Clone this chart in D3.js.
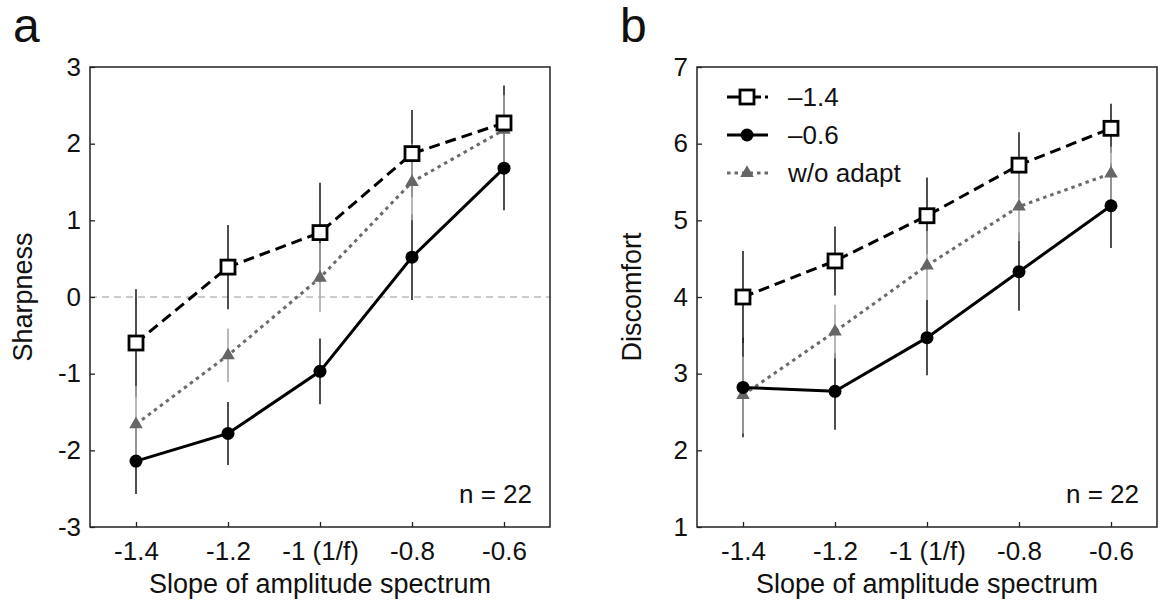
<!DOCTYPE html>
<html>
<head>
<meta charset="utf-8">
<script src="https://cdn.jsdelivr.net/npm/d3@7"></script>
<style>
body { margin: 0; background: #fff; }
text { font-family: "Liberation Sans", Arial, Helvetica, sans-serif; fill: #111; }
</style>
</head>
<body>
<div id="chart"></div>
<script>
// x categories (slope of amplitude spectrum)
var slopes = [-1.4, -1.2, -1.0, -0.8, -0.6];
var slopeLabels = ["-1.4", "-1.2", "-1 (1/f)", "-0.8", "-0.6"];

// panel a: sharpness
var sharpAdapt14 = [-0.6, 0.39, 0.84, 1.87, 2.27];
var sharpAdapt14Err = [0.7, 0.55, 0.65, 0.57, 0.49];
var sharpAdapt06 = [-2.14, -1.78, -0.97, 0.52, 1.68];
var sharpAdapt06Err = [0.43, 0.41, 0.43, 0.56, 0.55];
var sharpNoAdapt = [-1.66, -0.76, 0.25, 1.5, 2.18];
var sharpNoAdaptErr = [0.5, 0.35, 0.45, 0.5, 0.45];
var sharpTicks = [-3, -2, -1, 0, 1, 2, 3];

// panel b: discomfort
var discAdapt14 = [4.0, 4.47, 5.06, 5.72, 6.2];
var discAdapt14Err = [0.6, 0.45, 0.5, 0.43, 0.32];
var discAdapt06 = [2.82, 2.77, 3.47, 4.33, 5.19];
var discAdapt06Err = [0.65, 0.5, 0.49, 0.51, 0.55];
var discNoAdapt = [2.72, 3.55, 4.41, 5.18, 5.61];
var discNoAdaptErr = [0.5, 0.35, 0.45, 0.45, 0.35];
var discTicks = [1, 2, 3, 4, 5, 6, 7];

var legendLabels = ["\u20131.4", "\u20130.6", "w/o adapt"];

var W = 1160, H = 608;
var size = 460;

var svg = d3.select("#chart").append("svg")
    .attr("width", W)
    .attr("height", H);

// series styles: 0 = adapt -1.4 (open squares, dashed), 1 = adapt -0.6 (dots, solid), 2 = no adapt (grey triangles, dotted)
var styles = [
    { line: "#000", dash: "11,6", bar: "#222", mark: "square" },
    { line: "#000", dash: null, bar: "#222", mark: "circle" },
    { line: "#6a6a6a", dash: "3.5,4", bar: "#a8a8a8", mark: "triangle" }
];

function drawMarker(g, type, cx, cy) {
    if (type == "square") {
        g.append("rect")
            .attr("x", cx - 7).attr("y", cy - 7)
            .attr("width", 14).attr("height", 14)
            .attr("fill", "#fff")
            .attr("stroke", "#000")
            .attr("stroke-width", 2.8);
    } else if (type == "circle") {
        g.append("circle")
            .attr("cx", cx).attr("cy", cy).attr("r", 6.5)
            .attr("fill", "#000");
    } else {
        g.append("path")
            .attr("d", d3.symbol().type(d3.symbolTriangle).size(80)())
            .attr("transform", "translate(" + cx + "," + cy + ")")
            .attr("fill", "#666");
    }
}

function drawPanel(left, letter, yTitle, yTicks, series, errs, showZero, showLegend, titleX) {
    var g = svg.append("g")
        .attr("transform", "translate(" + left + ",67)");

    var x = d3.scaleLinear().domain([-1.5, -0.5]).range([0, size]);
    var y = d3.scaleLinear().domain([yTicks[0], yTicks[yTicks.length - 1]]).range([size, 0]);

    // zero reference line
    if (showZero) {
        g.append("line")
            .attr("x1", 0).attr("x2", size)
            .attr("y1", y(0)).attr("y2", y(0))
            .attr("stroke", "#bbb")
            .attr("stroke-width", 1.5)
            .attr("stroke-dasharray", "7,5");
    }

    // axes, ticks pointing inward
    var xAxis = g.append("g")
        .attr("transform", "translate(0," + size + ")")
        .call(d3.axisBottom(x).tickValues(slopes)
            .tickFormat(function (d, i) { return slopeLabels[i]; })
            .tickSizeInner(-5).tickSizeOuter(0).tickPadding(15));
    var yAxis = g.append("g")
        .call(d3.axisLeft(y).tickValues(yTicks)
            .tickFormat(function (d) { return String(d); })
            .tickSizeInner(-5).tickSizeOuter(0).tickPadding(9));
    [xAxis, yAxis].forEach(function (a) {
        a.attr("font-size", 26).attr("font-family", null);
        a.select(".domain").remove();
        a.selectAll(".tick line").attr("stroke", "#222").attr("stroke-width", 1.3);
        a.selectAll(".tick text").attr("fill", "#111");
    });

    // frame
    g.append("rect")
        .attr("x", 0).attr("y", 0)
        .attr("width", size).attr("height", size)
        .attr("fill", "none")
        .attr("stroke", "#222")
        .attr("stroke-width", 1.5);

    // error bars: black first, grey on top
    [0, 1, 2].forEach(function (k) {
        slopes.forEach(function (s, i) {
            g.append("line")
                .attr("x1", x(s)).attr("x2", x(s))
                .attr("y1", y(series[k][i] - errs[k][i]))
                .attr("y2", y(series[k][i] + errs[k][i]))
                .attr("stroke", styles[k].bar)
                .attr("stroke-width", 1.6);
        });
    });

    var line = d3.line()
        .x(function (d, i) { return x(slopes[i]); })
        .y(function (d) { return y(d); });

    // lines and markers: grey triangles under the black series
    [2, 1, 0].forEach(function (k) {
        g.append("path")
            .datum(series[k])
            .attr("d", line)
            .attr("fill", "none")
            .attr("stroke", styles[k].line)
            .attr("stroke-width", 3)
            .attr("stroke-dasharray", styles[k].dash);
    });
    [2, 1, 0].forEach(function (k) {
        series[k].forEach(function (v, i) {
            drawMarker(g, styles[k].mark, x(slopes[i]), y(v));
        });
    });

    g.append("text")
        .attr("x", size - 18).attr("y", 436)
        .attr("text-anchor", "end")
        .attr("font-size", 26)
        .text("n = 22");

    if (showLegend) {
        var lg = g.append("g").attr("transform", "translate(30,30)");
        [0, 1, 2].forEach(function (k) {
            var row = lg.append("g").attr("transform", "translate(0," + (k * 38) + ")");
            row.append("line")
                .attr("x1", 0).attr("x2", 41)
                .attr("y1", 0).attr("y2", 0)
                .attr("stroke", styles[k].line)
                .attr("stroke-width", 3)
                .attr("stroke-dasharray", k == 0 ? "15,4" : styles[k].dash);
            drawMarker(row, styles[k].mark, 20, 0);
            row.append("text")
                .attr("x", 61).attr("y", 0)
                .attr("dy", "0.36em")
                .attr("font-size", 26)
                .text(legendLabels[k]);
        });
    }

    // axis titles
    g.append("text")
        .attr("x", size / 2).attr("y", 526)
        .attr("text-anchor", "middle")
        .attr("font-size", 27)
        .text("Slope of amplitude spectrum");
    g.append("text")
        .attr("transform", "translate(" + titleX + "," + (size / 2) + ") rotate(-90)")
        .attr("text-anchor", "middle")
        .attr("font-size", 27)
        .text(yTitle);

    // panel letter
    svg.append("text")
        .attr("x", left - 77).attr("y", 42)
        .attr("font-size", 48)
        .text(letter);
}

drawPanel(90, "a", "Sharpness", sharpTicks,
    [sharpAdapt14, sharpAdapt06, sharpNoAdapt],
    [sharpAdapt14Err, sharpAdapt06Err, sharpNoAdaptErr], true, false, -58);
drawPanel(697, "b", "Discomfort", discTicks,
    [discAdapt14, discAdapt06, discNoAdapt],
    [discAdapt14Err, discAdapt06Err, discNoAdaptErr], false, true, -56);
</script>
</body>
</html>
